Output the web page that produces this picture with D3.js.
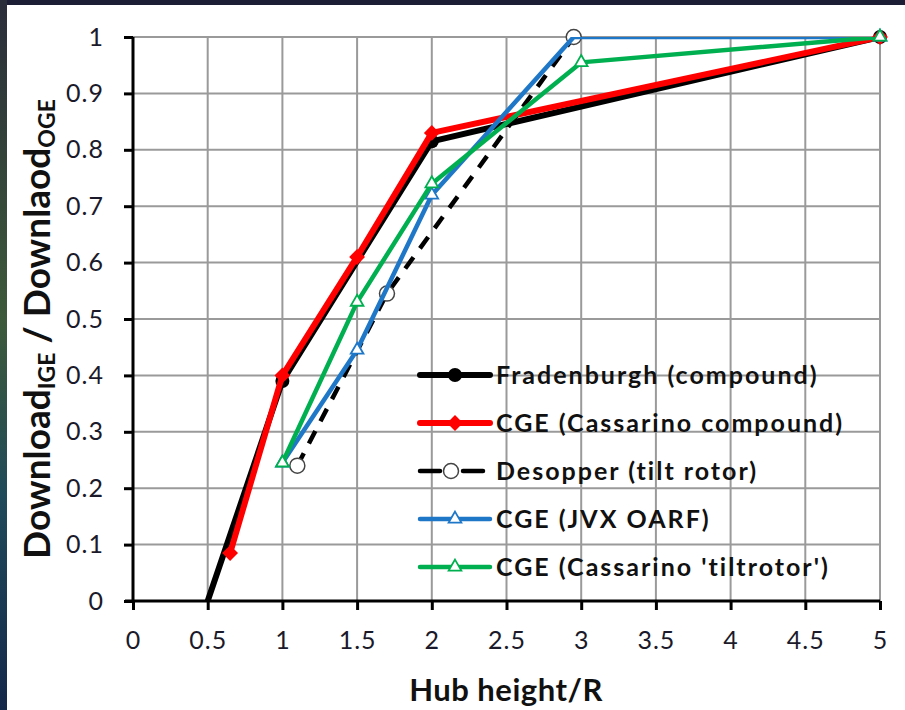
<!DOCTYPE html>
<html><head><meta charset="utf-8">
<script src="https://cdn.jsdelivr.net/npm/d3@7"></script>
<style>html,body{margin:0;padding:0;background:#fff;}svg{display:block;}</style>
</head><body>
<svg id="chart" width="905" height="710"></svg>
<script>
// ---- data ----
const xTicks = [0,0.5,1,1.5,2,2.5,3,3.5,4,4.5,5];
const yTicks = [0,0.1,0.2,0.3,0.4,0.5,0.6,0.7,0.8,0.9,1];
const seriesNames = ["Fradenburgh (compound)","CGE (Cassarino compound)","Desopper (tilt rotor)","CGE (JVX OARF)","CGE (Cassarino 'tiltrotor')"];
const fradX = [0.5,1,2,5];
const fradY = [0,0.39,0.815,1];
const cassCompX = [0.65,1,1.5,2,5];
const cassCompY = [0.085,0.40,0.61,0.83,1];
const desopX = [1.1,1.7,2.95];
const desopY = [0.24,0.545,1.0];
const jvxX = [1,1.5,2,2.95,5];
const jvxY = [0.245,0.445,0.72,1,1];
const cassTiltX = [1,1.5,2,3,5];
const cassTiltY = [0.245,0.53,0.74,0.955,1];

const svg = d3.select("#chart");
const defs = svg.append("defs");
const lg = defs.append("linearGradient").attr("id","side").attr("x1",0).attr("y1",0).attr("x2",0).attr("y2",1);
lg.append("stop").attr("offset","0%").attr("stop-color","#2a2d3a");
lg.append("stop").attr("offset","45%").attr("stop-color","#3d5a3a");
lg.append("stop").attr("offset","70%").attr("stop-color","#1f4a5a");
lg.append("stop").attr("offset","100%").attr("stop-color","#14284a");
svg.append("rect").attr("x",0).attr("y",0).attr("width",905).attr("height",710).attr("fill","#fff");
svg.append("rect").attr("x",0).attr("y",0).attr("width",905).attr("height",5).attr("fill","#1b1e35");
svg.append("rect").attr("x",0).attr("y",0).attr("width",7).attr("height",710).attr("fill","url(#side)");

const x = d3.scaleLinear().domain([0,5]).range([133,880]);
const y = d3.scaleLinear().domain([0,1]).range([601,37]);
const font = "Lato, 'Open Sans', sans-serif";

defs.append("clipPath").attr("id","plotclip").append("rect")
  .attr("x",x(0)).attr("y",y(1)).attr("width",x(5)-x(0)+4).attr("height",y(0)-y(1));

// grid
const g = svg.append("g");
g.selectAll(".vg").data(xTicks.filter(d=>d>0)).join("line")
  .attr("x1",d=>x(d)).attr("x2",d=>x(d)).attr("y1",y(0)).attr("y2",y(1))
  .attr("stroke","#9a9a9a").attr("stroke-width",2);
g.selectAll(".hg").data(yTicks.filter(d=>d>0)).join("line")
  .attr("x1",x(0)).attr("x2",x(5)).attr("y1",d=>y(d)).attr("y2",d=>y(d))
  .attr("stroke","#9a9a9a").attr("stroke-width",2);

// axes
const yAxis = svg.append("g").attr("transform",`translate(${x(0)},0)`)
  .call(d3.axisLeft(y).tickValues(yTicks).tickSize(9).tickPadding(20).tickFormat(d=>d3.format("")(+d.toFixed(1))));
const xAxis = svg.append("g").attr("transform",`translate(0,${y(0)})`)
  .call(d3.axisBottom(x).tickValues(xTicks).tickSize(9).tickPadding(21).tickFormat(d=>d3.format("")(d)));
[yAxis,xAxis].forEach(a=>{
  a.select(".domain").attr("stroke","#000").attr("stroke-width",3);
  a.selectAll(".tick line").attr("stroke","#000").attr("stroke-width",3);
  a.selectAll(".tick text").attr("fill","#1a1a2a").style("font-family",font).style("font-size","25px").style("letter-spacing","1px");
});
yAxis.select(".domain").attr("d",`M0,${y(1)}V${y(0)}`);
xAxis.select(".domain").attr("d",`M${x(0)-8},0H${x(5)}`);

// series
const series = [
  {name:seriesNames[0], xs:fradX, ys:fradY, color:"#000", width:6, dash:null, marker:"circleFill", skip:[0]},
  {name:seriesNames[1], xs:cassCompX, ys:cassCompY, color:"#ff0000", width:6, dash:null, marker:"diamond", skip:[]},
  {name:seriesNames[2], xs:desopX, ys:desopY, color:"#000", width:4.5, dash:"14,11", marker:"circleOpen", skip:[]},
  {name:seriesNames[3], xs:jvxX, ys:jvxY, color:"#1f77c8", width:4.5, dash:null, marker:"triOpen", skip:[3]},
  {name:seriesNames[4], xs:cassTiltX, ys:cassTiltY, color:"#00b050", width:4.5, dash:null, marker:"triOpen", skip:[]}
];
const line = d3.line().x(d=>x(d[0])).y(d=>y(d[1]));

function drawMarker(sel, type, color, cx, cy){
  if(type==="circleFill"){
    sel.append("circle").attr("cx",cx).attr("cy",cy).attr("r",7).attr("fill","#000");
  } else if(type==="diamond"){
    sel.append("path").attr("d",d3.symbol(d3.symbolDiamond2,160)()).attr("transform",`translate(${cx},${cy})`).attr("fill",color);
  } else if(type==="circleOpen"){
    sel.append("circle").attr("cx",cx).attr("cy",cy).attr("r",7.5).attr("fill","#fff").attr("stroke","#444").attr("stroke-width",1.5);
  } else if(type==="triOpen"){
    sel.append("path").attr("d",d3.symbol(d3.symbolTriangle,70)()).attr("transform",`translate(${cx},${cy})`)
      .attr("fill","#fff").attr("stroke",color).attr("stroke-width",1.8);
  }
}

series.forEach(s=>{
  const pts = s.xs.map((v,i)=>[v,s.ys[i]]);
  const gs = svg.append("g");
  gs.append("path").datum(pts).attr("d",line).attr("fill","none").attr("stroke",s.color)
    .attr("clip-path","url(#plotclip)")
    .attr("stroke-width",s.width).attr("stroke-linejoin","round").attr("stroke-dasharray",s.dash);
  pts.forEach((p,i)=>{ if(!s.skip.includes(i)) drawMarker(gs,s.marker,s.color,x(p[0]),y(p[1])); });
});

// legend
const leg = svg.append("g");
const legY0 = 375, legDy = 48;
series.forEach((s,i)=>{
  const ly = legY0 + i*legDy;
  const x1 = 420, x2 = s.dash ? 483 : 490;
  if(s.dash){
    leg.append("line").attr("x1",x1).attr("x2",x1+20).attr("y1",ly).attr("y2",ly).attr("stroke",s.color).attr("stroke-width",s.width).attr("stroke-linecap","round");
    leg.append("line").attr("x1",x2-20).attr("x2",x2).attr("y1",ly).attr("y2",ly).attr("stroke",s.color).attr("stroke-width",s.width).attr("stroke-linecap","round");
  } else {
    leg.append("line").attr("x1",x1).attr("x2",x2).attr("y1",ly).attr("y2",ly).attr("stroke",s.color).attr("stroke-width",s.width).attr("stroke-linecap","round");
  }
  drawMarker(leg,s.marker,s.color,s.dash?451:455,ly);
  leg.append("text").attr("x",496).attr("y",ly).attr("dy","0.36em").text(s.name)
    .style("font-family",font).style("font-weight","bold").style("font-size","25px").style("letter-spacing","2px").attr("fill","#111");
});

// axis titles
svg.append("text").attr("x",506).attr("y",701).attr("text-anchor","middle").text("Hub height/R")
  .style("font-family",font).style("font-weight","bold").style("font-size","31px").style("letter-spacing","0.5px").attr("fill","#111");
const yt = svg.append("text").attr("transform","translate(50,329) rotate(-90)").attr("text-anchor","middle")
  .style("font-family",font).style("font-weight","bold").style("font-size","37px").attr("fill","#111");
yt.append("tspan").text("Download");
yt.append("tspan").text("IGE").attr("baseline-shift","-22%").style("font-size","23px");
yt.append("tspan").text(" / Downlaod");
yt.append("tspan").text("OGE").attr("baseline-shift","-22%").style("font-size","23px");
</script>
</body></html>
